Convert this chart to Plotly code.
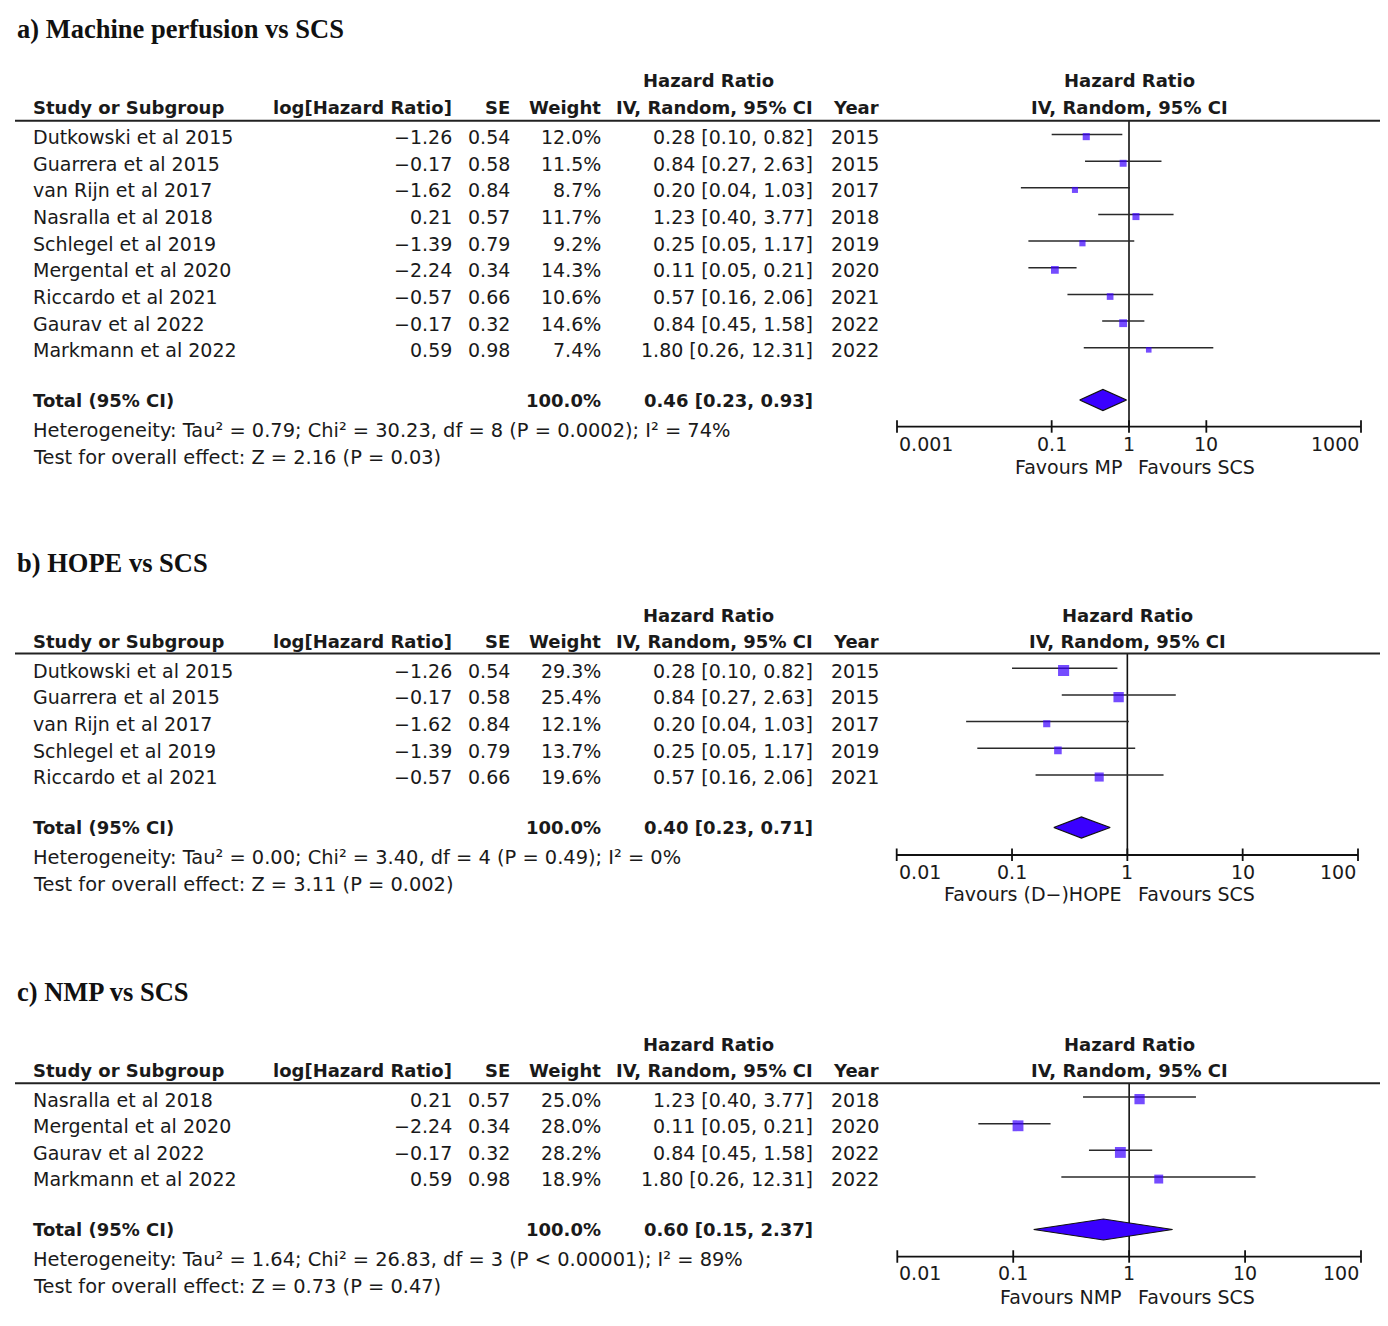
import math
import plotly.graph_objects as go

# page body has an 8px margin; the figure is sized to fill the window exactly
OFF = 8
W, H = 1388 - 2 * OFF, 1326 - 2 * OFF

# ---------------- data ----------------
a_titles = "a) Machine perfusion vs SCS"
a_names = ["Dutkowski et al 2015", "Guarrera et al 2015", "van Rijn et al 2017", "Nasralla et al 2018",
           "Schlegel et al 2019", "Mergental et al 2020", "Riccardo et al 2021", "Gaurav et al 2022",
           "Markmann et al 2022"]
a_loghr = [-1.26, -0.17, -1.62, 0.21, -1.39, -2.24, -0.57, -0.17, 0.59]
a_se = [0.54, 0.58, 0.84, 0.57, 0.79, 0.34, 0.66, 0.32, 0.98]
a_weight = [12.0, 11.5, 8.7, 11.7, 9.2, 14.3, 10.6, 14.6, 7.4]
a_hr = [0.28, 0.84, 0.20, 1.23, 0.25, 0.11, 0.57, 0.84, 1.80]
a_lo = [0.10, 0.27, 0.04, 0.40, 0.05, 0.05, 0.16, 0.45, 0.26]
a_hi = [0.82, 2.63, 1.03, 3.77, 1.17, 0.21, 2.06, 1.58, 12.31]
a_year = [2015, 2015, 2017, 2018, 2019, 2020, 2021, 2022, 2022]
a_total = [0.46, 0.23, 0.93]
a_het = "Heterogeneity: Tau\u00b2 = 0.79; Chi\u00b2 = 30.23, df = 8 (P = 0.0002); I\u00b2 = 74%"
a_test = "Test for overall effect: Z = 2.16 (P = 0.03)"
a_ticks = [0.001, 0.1, 1, 10, 1000]
a_ticklabels = ["0.001", "0.1", "1", "10", "1000"]
a_favours = ["Favours MP", "Favours SCS"]

b_titles = "b) HOPE vs SCS"
b_names = ["Dutkowski et al 2015", "Guarrera et al 2015", "van Rijn et al 2017", "Schlegel et al 2019",
           "Riccardo et al 2021"]
b_loghr = [-1.26, -0.17, -1.62, -1.39, -0.57]
b_se = [0.54, 0.58, 0.84, 0.79, 0.66]
b_weight = [29.3, 25.4, 12.1, 13.7, 19.6]
b_hr = [0.28, 0.84, 0.20, 0.25, 0.57]
b_lo = [0.10, 0.27, 0.04, 0.05, 0.16]
b_hi = [0.82, 2.63, 1.03, 1.17, 2.06]
b_year = [2015, 2015, 2017, 2019, 2021]
b_total = [0.40, 0.23, 0.71]
b_het = "Heterogeneity: Tau\u00b2 = 0.00; Chi\u00b2 = 3.40, df = 4 (P = 0.49); I\u00b2 = 0%"
b_test = "Test for overall effect: Z = 3.11 (P = 0.002)"
b_ticks = [0.01, 0.1, 1, 10, 100]
b_ticklabels = ["0.01", "0.1", "1", "10", "100"]
b_favours = ["Favours (D\u2212)HOPE", "Favours SCS"]

c_titles = "c) NMP vs SCS"
c_names = ["Nasralla et al 2018", "Mergental et al 2020", "Gaurav et al 2022", "Markmann et al 2022"]
c_loghr = [0.21, -2.24, -0.17, 0.59]
c_se = [0.57, 0.34, 0.32, 0.98]
c_weight = [25.0, 28.0, 28.2, 18.9]
c_hr = [1.23, 0.11, 0.84, 1.80]
c_lo = [0.40, 0.05, 0.45, 0.26]
c_hi = [3.77, 0.21, 1.58, 12.31]
c_year = [2018, 2020, 2022, 2022]
c_total = [0.60, 0.15, 2.37]
c_het = "Heterogeneity: Tau\u00b2 = 1.64; Chi\u00b2 = 26.83, df = 3 (P < 0.00001); I\u00b2 = 89%"
c_test = "Test for overall effect: Z = 0.73 (P = 0.47)"
c_ticks = [0.01, 0.1, 1, 10, 100]
c_ticklabels = ["0.01", "0.1", "1", "10", "100"]
c_favours = ["Favours NMP", "Favours SCS"]

panels = [
    dict(title=a_titles, names=a_names, loghr=a_loghr, se=a_se, weight=a_weight, hr=a_hr, lo=a_lo, hi=a_hi,
         year=a_year, total=a_total, het=a_het, test=a_test, ticks=a_ticks, ticklabels=a_ticklabels,
         favours=a_favours),
    dict(title=b_titles, names=b_names, loghr=b_loghr, se=b_se, weight=b_weight, hr=b_hr, lo=b_lo, hi=b_hi,
         year=b_year, total=b_total, het=b_het, test=b_test, ticks=b_ticks, ticklabels=b_ticklabels,
         favours=b_favours),
    dict(title=c_titles, names=c_names, loghr=c_loghr, se=c_se, weight=c_weight, hr=c_hr, lo=c_lo, hi=c_hi,
         year=c_year, total=c_total, het=c_het, test=c_test, ticks=c_ticks, ticklabels=c_ticklabels,
         favours=c_favours),
]

# ---------------- layout geometry (window pixels) ----------------
geoms = [
    dict(title=29, hdr1=80.5, hdr2=107, line=120.7, row0=134.5, total=400, het=430, test=457,
         axis=426.7, ticklab=444, fav=467, x0=897, x1=1361),
    dict(title=563, hdr1=615, hdr2=641, line=653.5, row0=668.3, total=827.5, het=857, test=884,
         axis=855, ticklab=871.5, fav=894, x0=896.7, x1=1358),
    dict(title=992, hdr1=1044, hdr2=1070, line=1083.3, row0=1097, total=1229.5, het=1259, test=1286,
         axis=1256.7, ticklab=1273, fav=1296.5, x0=897.3, x1=1361),
]
PITCH = 26.65
TXT_SHIFT = -2.5
FONT = "DejaVu Sans"
FS = 19
FSB = 18
TXT = "#1a1a1a"
BLUE = "#3A00FF"

COL_LOG, COL_SE, COL_W, COL_CI, COL_YEAR, COL_NAME = 454, 511.5, 602.5, 814.5, 881.5, 31


def fmt(v):
    return f"{v:.2f}".replace("-", "\u2212")


def fx(px):
    return (px - OFF) / W


def fy(py):
    return 1 - (py - OFF) / H


fig = go.Figure()
annotations = []
shapes = []
layout_axes = {}

for k, (p, g) in enumerate(zip(panels, geoms)):
    idx = "" if k == 0 else str(k + 1)
    xa, ya = "x" + idx, "y" + idx
    lo_dec = math.log10(p["ticks"][0])
    hi_dec = math.log10(p["ticks"][-1])
    ppd = (g["x1"] - g["x0"]) / (hi_dec - lo_dec)
    pad = 12
    top_px = g["title"] - 20
    bot_px = g["fav"] + 12

    def r(px, g=g):
        return (px - g["row0"]) / PITCH

    layout_axes["xaxis" + idx] = dict(type="log", domain=[fx(g["x0"] - pad), fx(g["x1"] + pad)],
                                      range=[lo_dec - pad / ppd, hi_dec + pad / ppd], visible=False,
                                      anchor=ya, fixedrange=True)
    layout_axes["yaxis" + idx] = dict(domain=[fy(bot_px), fy(top_px)], range=[r(bot_px), r(top_px)],
                                      visible=False, anchor=xa, fixedrange=True)

    n = len(p["names"])
    rows = list(range(n))
    total_row = r(g["total"])
    axis_row = r(g["axis"])
    line_row = r(g["line"])

    # vertical line of no effect
    fig.add_trace(go.Scatter(x=[1, 1], y=[line_row, axis_row], mode="lines",
                             line=dict(color="#111", width=1.6), xaxis=xa, yaxis=ya,
                             showlegend=False, hoverinfo="skip"))
    # confidence intervals
    cx, cy = [], []
    for i in rows:
        cx += [p["lo"][i], p["hi"][i], None]
        cy += [i, i, None]
    fig.add_trace(go.Scatter(x=cx, y=cy, mode="lines", line=dict(color="#2a2a2a", width=1.5),
                             xaxis=xa, yaxis=ya, showlegend=False, hoverinfo="skip"))
    # study squares
    fig.add_trace(go.Scatter(x=p["hr"], y=[i + 0.08 for i in rows], mode="markers",
                             marker=dict(symbol="square", color=BLUE,
                                         size=[2.05 * math.sqrt(w) for w in p["weight"]],
                                         line=dict(width=0)),
                             xaxis=xa, yaxis=ya, showlegend=False, hoverinfo="skip"))
    # diamond
    est, tlo, thi = p["total"]
    dh = 10.5 / PITCH
    fig.add_trace(go.Scatter(x=[tlo, est, thi, est, tlo],
                             y=[total_row, total_row - dh, total_row, total_row + dh, total_row],
                             mode="lines", fill="toself", fillcolor=BLUE,
                             line=dict(color="#111", width=1.2), xaxis=xa, yaxis=ya,
                             showlegend=False, hoverinfo="skip"))
    # x axis line + ticks
    ax_x = [p["ticks"][0], p["ticks"][-1], None]
    ax_y = [axis_row, axis_row, None]
    for t in p["ticks"]:
        ax_x += [t, t, None]
        ax_y += [axis_row - 6.5 / PITCH, axis_row + 6 / PITCH, None]
    fig.add_trace(go.Scatter(x=ax_x, y=ax_y, mode="lines", line=dict(color="#111", width=1.8),
                             xaxis=xa, yaxis=ya, showlegend=False, hoverinfo="skip"))

    # tick labels
    for j, (t, lab) in enumerate(zip(p["ticks"], p["ticklabels"])):
        anc = "left" if j == 0 else ("right" if j == len(p["ticks"]) - 1 else "center")
        annotations.append(dict(x=math.log10(t), y=r(g["ticklab"]), xref=xa, yref=ya, text=lab,
                                showarrow=False, xanchor=anc, yanchor="middle",
                                font=dict(family=FONT, size=FS, color=TXT)))
    # favours
    annotations.append(dict(x=fx(1123.5), y=r(g["fav"]), xref="paper", yref=ya, text=p["favours"][0],
                            showarrow=False, xanchor="right", yanchor="middle",
                            font=dict(family=FONT, size=FS, color=TXT)))
    annotations.append(dict(x=fx(1135.5), y=r(g["fav"]), xref="paper", yref=ya, text=p["favours"][1],
                            showarrow=False, xanchor="left", yanchor="middle",
                            font=dict(family=FONT, size=FS, color=TXT)))

    # title
    annotations.append(dict(x=fx(15), y=r(g["title"]), xref="paper", yref=ya,
                            text="<b>" + p["title"] + "</b>", showarrow=False, xanchor="left",
                            yanchor="middle", font=dict(family="Liberation Serif", size=26.5, color="#111")))

    def txt(x, y, s, anc, bold=False, shift=TXT_SHIFT, ya=ya, size=None):
        annotations.append(dict(x=fx(x), y=y, xref="paper", yref=ya,
                                text=("<b>" + s + "</b>") if bold else s, showarrow=False,
                                xanchor=anc, yanchor="middle", yshift=shift,
                                font=dict(family=FONT, size=size or (FSB if bold else FS), color=TXT)))

    # headers
    cx_fp = (g["x0"] + g["x1"]) / 2
    txt(708, r(g["hdr1"]), "Hazard Ratio", "center", True, 0)
    txt(cx_fp, r(g["hdr1"]), "Hazard Ratio", "center", True, 0)
    txt(COL_NAME, r(g["hdr2"]), "Study or Subgroup", "left", True, 0)
    txt(COL_LOG, r(g["hdr2"]), "log[Hazard Ratio]", "right", True, 0)
    txt(COL_SE, r(g["hdr2"]), "SE", "right", True, 0)
    txt(COL_W, r(g["hdr2"]), "Weight", "right", True, 0)
    txt(COL_CI, r(g["hdr2"]), "IV, Random, 95% CI", "right", True, 0)
    txt(COL_YEAR, r(g["hdr2"]), "Year", "right", True, 0)
    txt(cx_fp, r(g["hdr2"]), "IV, Random, 95% CI", "center", True, 0)

    shapes.append(dict(type="line", xref="paper", yref="paper", x0=fx(15), x1=fx(1380),
                       y0=fy(g["line"]), y1=fy(g["line"]), line=dict(color="#222", width=2)))

    # rows
    for i in rows:
        txt(COL_NAME, i, p["names"][i], "left")
        txt(COL_LOG, i, fmt(p["loghr"][i]), "right")
        txt(COL_SE, i, fmt(p["se"][i]), "right")
        txt(COL_W, i, f"{p['weight'][i]:.1f}%", "right")
        txt(COL_CI, i, f"{fmt(p['hr'][i])} [{fmt(p['lo'][i])}, {fmt(p['hi'][i])}]", "right")
        txt(COL_YEAR, i, str(p["year"][i]), "right")

    txt(COL_NAME, total_row, "Total (95% CI)", "left", True, 0)
    txt(COL_W, total_row, "100.0%", "right", True, 0)
    txt(COL_CI, total_row, f"{fmt(est)} [{fmt(tlo)}, {fmt(thi)}]", "right", True, 0)
    txt(COL_NAME, r(g["het"]), p["het"], "left", False, 0, size=19.4)
    txt(COL_NAME, r(g["test"]), p["test"], "left", False, 0, size=19.4)

fig.update_layout(width=W, height=H, margin=dict(l=0, r=0, t=0, b=0), paper_bgcolor="white",
                  plot_bgcolor="white", showlegend=False, annotations=annotations, shapes=shapes,
                  **layout_axes)
fig.write_html("out.html")
